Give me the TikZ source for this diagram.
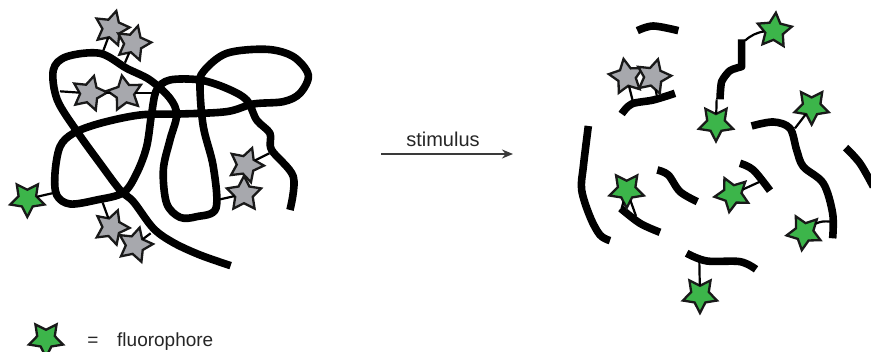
\documentclass[tikz,border=0pt]{standalone}
\usepackage{fontspec}
\setmainfont{Liberation Sans}
\usetikzlibrary{shapes.geometric,arrows.meta}
\definecolor{dyeGreen}{HTML}{3CB54A}
\definecolor{dyeGray}{HTML}{A7A8AD}
\definecolor{arrowGray}{HTML}{3A3A3A}
\tikzset{
  strand/.style={line width=7.6pt,black,line join=round},
  linker/.style={line width=2.2pt,black},
  dye/.style={star,star points=5,star point ratio=1.95,minimum size=36pt,inner sep=0pt,outer sep=0pt,
    draw=black!90,line width=2.3pt,line join=miter,shape border rotate=#1},
  green dye/.style={dye=#1,fill=dyeGreen},
  gray dye/.style={dye=#1,fill=dyeGray},
  label text/.style={font=\fontsize{20}{22}\selectfont,text=black!85,inner sep=0pt},
  key text/.style={font=\fontsize{19}{22}\selectfont,text=black!85,inner sep=0pt},
  left part/.style={x=0.3333pt,y=-0.3333pt},
  right part/.style={x=0.3333pt,y=-0.3333pt,shift={(560pt,0pt)}},
}
\newcommand{\curve}[1]{\draw[strand] plot[smooth,tension=0.55] coordinates {#1};}
\begin{document}
\begin{tikzpicture}[x=1pt,y=-1pt]
\useasboundingbox (0,0) rectangle (871,352);

% tangled polymer before the stimulus
\begin{scope}[left part]
  \curve{(692,797)(600,765)(520,728)(460,685)(400,605)(360,570)(300,490)(235,400)(172,300)(160,210)(200,170)(300,160)(380,205)(450,240)(510,295)(530,345)(510,420)(490,510)(500,610)(540,652)(590,650)(648,625)(640,500)(610,380)(600,260)(610,215)(680,160)(800,148)(880,170)(925,225)(900,280)(850,305)(760,312)(680,335)(540,342)(420,345)(300,370)(220,400)(180,440)(165,520)(170,585)(210,612)(290,600)(370,578)(410,520)(440,440)(455,340)(470,270)(510,240)(600,240)(680,265)(740,300)(770,360)(810,400)(815,450)(880,530)(870,630)}
  \node[gray dye=-15] (a1) at (335,85) {};
  \node[gray dye=-15] (a2) at (400,130) {};
  \node[gray dye=-15] (a3) at (268,280) {};
  \node[gray dye=10] (a4) at (375,280) {};
  \node[gray dye=-20] (a5) at (738,495) {};
  \node[gray dye=0] (a6) at (732,582) {};
  \node[gray dye=-20] (a7) at (335,682) {};
  \node[gray dye=-15] (a8) at (405,735) {};
  \node[green dye=36] (a9) at (82,597) {};
  \coordinate (p1) at (310,152);
  \coordinate (p2) at (375,188);
  \coordinate (p3) at (180,274);
  \coordinate (p4) at (462,280);
  \coordinate (p5) at (808,460);
  \coordinate (p6) at (652,600);
  \coordinate (p7) at (308,608);
  \coordinate (p8) at (452,700);
  \coordinate (p9) at (165,578);
\end{scope}
\draw[linker] (a1) -- (p1);
\draw[linker] (a2) -- (p2);
\draw[linker] (a3) -- (p3);
\draw[linker] (a3) -- (a4);
\draw[linker] (a4) -- (p4);
\draw[linker] (a5) -- (p5);
\draw[linker] (a6) -- (p6);
\draw[linker] (a7) -- (p7);
\draw[linker] (a8) -- (p8);
\draw[linker] (a9) -- (p9);

% reaction arrow
\coordinate (arrowStart) at (381,154);
\coordinate (arrowEnd) at (513,154);
\draw[line width=1.8pt,arrowGray,-{Stealth[length=11pt,width=9pt]}] (arrowStart) -- (arrowEnd);
\node[label text,anchor=base] (stim) at (443,146.5) {stimulus};

% fragments after the stimulus
\begin{scope}[right part]
  \curve{(232,92)(280,78)(355,92)}
  \curve{(185,342)(215,312)(280,300)(345,280)}
  \curve{(85,378)(70,500)(65,570)(90,650)(120,705)(150,722)}
  \curve{(182,625)(240,670)(300,697)}
  \curve{(292,510)(325,525)(360,575)(412,605)}
  \curve{(540,490)(580,510)(630,572)}
  \curve{(575,378)(640,366)(690,385)(710,450)(730,500)(790,550)(818,640)(818,715)}
  \curve{(857,443)(900,490)(940,560)}
  \curve{(380,760)(440,783)(540,785)(588,808)}
  \draw[strand] plot[smooth,tension=0.4] coordinates {(480,298)(485,245)(510,212)(545,200)} -- (545,118);

  \node[gray dye=10] (b1) at (200,230) {};
  \node[gray dye=-15] (b2) at (280,230) {};
  \node[green dye=-5] (b3) at (643,92) {};
  \node[green dye=36] (b4) at (468,370) {};
  \node[green dye=36] (b5) at (755,320) {};
  \node[green dye=36] (b6) at (200,570) {};
  \node[green dye=26] (b7) at (517,583) {};
  \node[green dye=28] (b8) at (733,697) {};
  \node[green dye=36] (b9) at (420,885) {};
  \coordinate (q1) at (218,302);
  \coordinate (q2) at (290,285);
  \coordinate (q3) at (555,122);
  \coordinate (q4) at (470,298);
  \coordinate (q5) at (705,385);
  \coordinate (q6) at (228,648);
  \coordinate (q7) at (185,625);
  \coordinate (q8) at (600,545);
  \coordinate (q9) at (810,665);
  \coordinate (q10) at (418,785);
\end{scope}
\draw[linker] (b1) -- (q1);
\draw[linker] (b2) -- (q2);
\draw[linker] (b3) to[bend right=15] (q3);
\draw[linker] (b4) -- (q4);
\draw[linker] (b5) -- (q5);
\draw[linker] (b6) -- (q6);
\draw[linker] (b6) -- (q7);
\draw[linker] (b7) -- (q8);
\draw[linker] (b8) to[bend left=15] (q9);
\draw[linker] (b9) -- (q10);

% key
\node[green dye=36] (key) at (46,339) {};
\node[key text,anchor=base] (eq) at (93,347) {=};
\node[key text,anchor=base west] (keyText) at (117,347) {fluorophore};
\end{tikzpicture}
\end{document}
